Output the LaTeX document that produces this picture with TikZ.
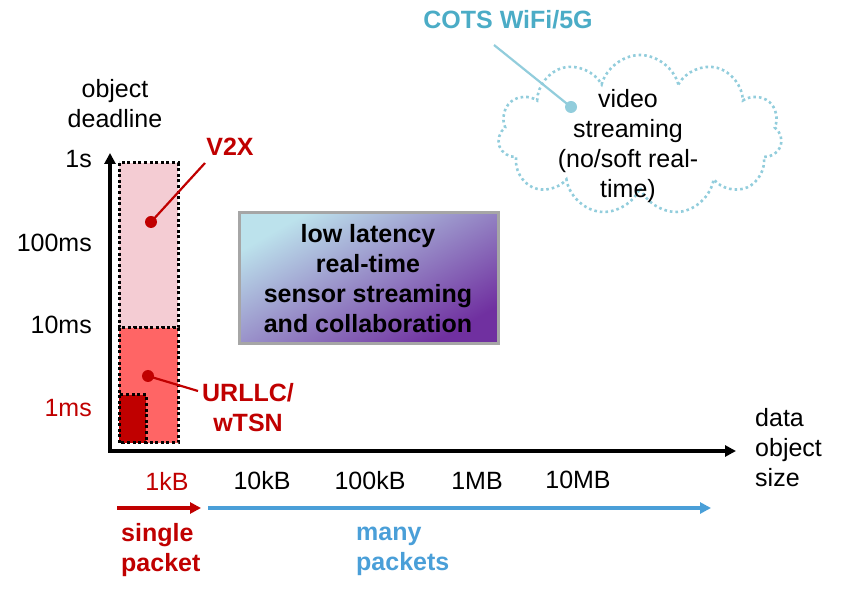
\documentclass[tikz,border=0pt]{standalone}
\usepackage{fontspec}
\setmainfont{Liberation Sans}
\usetikzlibrary{shapes.symbols,arrows.meta}
\definecolor{dred}{HTML}{C00000}
\definecolor{lpink}{HTML}{F4CCD3}
\definecolor{salmon}{HTML}{FF6565}
\definecolor{cotsblue}{HTML}{4BACC6}
\definecolor{cloudblue}{HTML}{92CDDC}
\definecolor{manyblue}{HTML}{4A9FD8}
\definecolor{gradA}{HTML}{BCE2EC}
\definecolor{gradB}{HTML}{7030A0}
\definecolor{boxgray}{HTML}{A6A6A6}
\begin{document}
\begin{tikzpicture}[x=1pt,y=-1pt,
  txt/.style={font=\fontsize{25}{30}\selectfont, inner sep=0pt, align=center},
  btxt/.style={font=\fontsize{25}{30}\selectfont\bfseries, inner sep=0pt, align=center},
  dotbox/.style={draw=black, line width=3pt, dash pattern=on 3pt off 2.6pt},
  axisline/.style={line width=3.2pt, -{Triangle[length=11pt,width=11pt]}},
  lead/.style={line width=2.2pt},
  spot/.style={circle, inner sep=0pt, minimum size=12pt},
  pktarrow/.style={line width=3.2pt, -{Triangle[length=11pt,width=11pt]}}
]
\useasboundingbox (0,0) rectangle (849,593);

% ranges
\draw[dotbox, fill=lpink] (119,163) rectangle (178,328);
\draw[dotbox, fill=salmon] (119,328) rectangle (178,443);
\draw[dotbox, fill=dred] (119,395) rectangle (146,443);

% axes
\coordinate (O) at (110,451);
\coordinate (ytip) at (110,153);
\coordinate (xtip) at (736,451);
\draw[axisline] (O) -- (ytip);
\draw[axisline] ([xshift=-1.6pt]O) -- (xtip);

% axis labels
\node[txt] (ylab) at (115,104) {object\\deadline};
\node[txt, anchor=east] (t1s) at (92,159) {1s};
\node[txt, anchor=east] (t100ms) at (92,243) {100ms};
\node[txt, anchor=east] (t10ms) at (92,325) {10ms};
\node[txt, anchor=east, text=dred] (t1ms) at (92,408) {1ms};
\node[txt, align=left, anchor=west] (xlab) at (755,448) {data\\object\\size};
\node[txt, text=dred] (x1kB) at (167,481) {1kB};
\node[txt] (x10kB) at (262,481) {10kB};
\node[txt] (x100kB) at (370,481) {100kB};
\node[txt] (x1MB) at (477,481) {1MB};
\node[txt] (x10MB) at (578,480) {10MB};

% V2X
\node[spot, fill=dred] (v2xdot) at (151,222) {};
\node[btxt, text=dred] (v2x) at (230,147) {V2X};
\coordinate (v2xend) at (205,163);
\draw[lead, dred] (v2xdot.center) -- (v2xend);

% URLLC
\node[spot, fill=dred] (urdot) at (148,376) {};
\node[btxt, text=dred] (urllc) at (248,408) {URLLC/\\wTSN};
\coordinate (urend) at (198,391);
\draw[lead, dred] (urdot.center) -- (urend);

% gradient box
\shade[top color=gradA, bottom color=gradB, shading angle=30] (239,213) rectangle (498,344);
\draw[boxgray, line width=3pt] (239,213) rectangle (498,344);
\node[btxt] (lowlat) at (368,279) {low latency\\real-time\\sensor streaming\\and collaboration};

% cloud
\node[cloud, cloud puffs=11, aspect=1.78, draw=cloudblue, line width=2.6pt,
      dash pattern=on 2.6pt off 3pt, minimum width=284pt, minimum height=160pt] (cloud) at (640,135) {};
\node[txt] (cloudtxt) at (628,146) {video\\streaming\\(no/soft real-\\time)};
\node[spot, fill=cloudblue] (cotsdot) at (571,107) {};
\node[btxt, text=cotsblue] (cots) at (508,20) {COTS WiFi/5G};
\coordinate (cotsend) at (494,45);
\draw[lead, cloudblue] (cotsend) -- (cotsdot.center);

% packet ranges
\coordinate (rs) at (117,508);
\coordinate (re) at (201,508);
\coordinate (bs) at (208,508);
\coordinate (be) at (711,508);
\draw[pktarrow, dred] (rs) -- (re);
\draw[pktarrow, manyblue] (bs) -- (be);
\node[btxt, text=dred, align=left, anchor=west] (single) at (121,550) {single\\packet};
\node[btxt, text=manyblue, align=left, anchor=west] (many) at (356,551) {many\\packets};
\end{tikzpicture}
\end{document}
